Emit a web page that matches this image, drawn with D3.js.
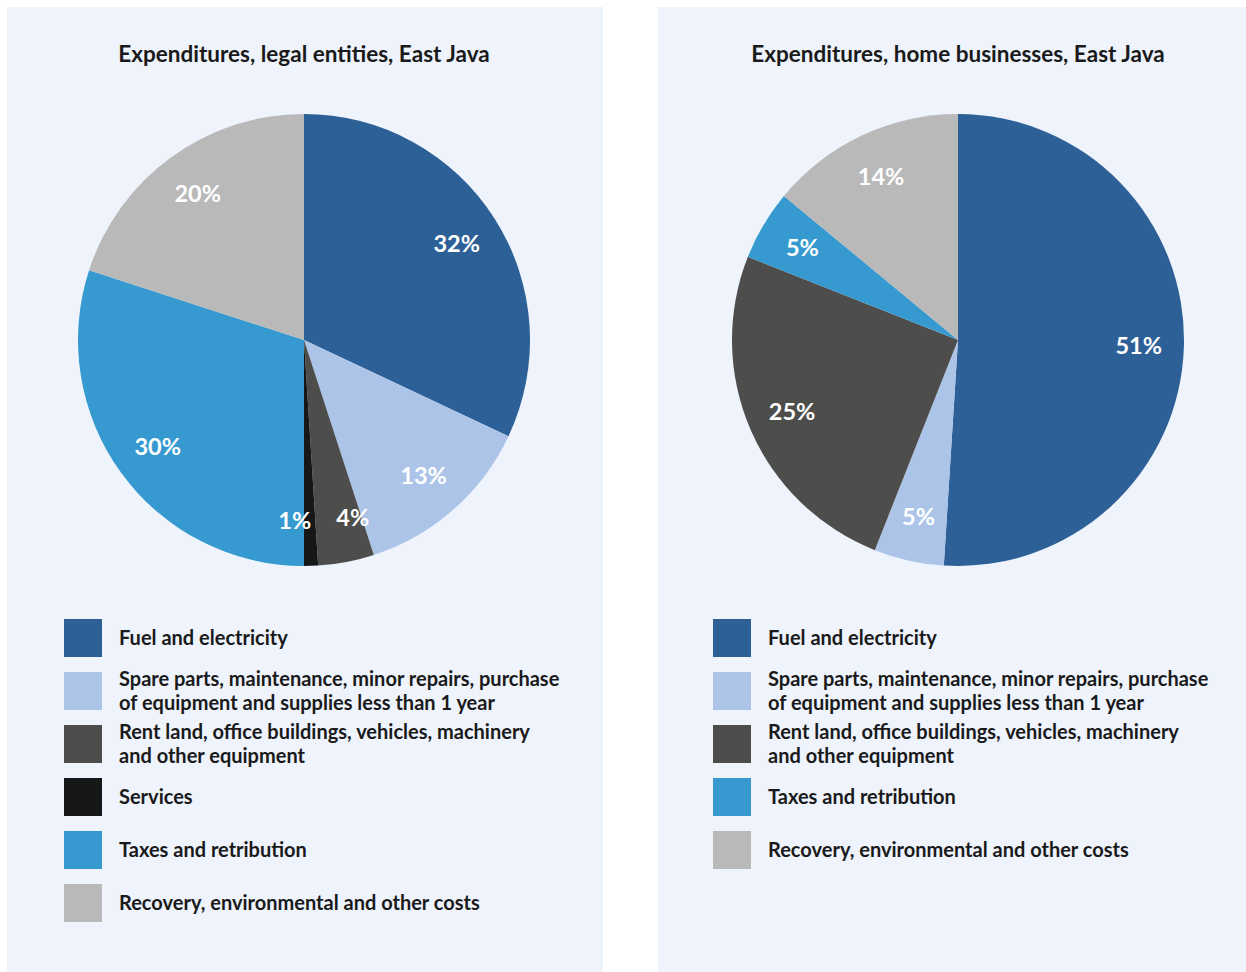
<!DOCTYPE html>
<html>
<head>
<meta charset="utf-8">
<script src="https://cdn.jsdelivr.net/npm/d3@7/dist/d3.min.js"></script>
<style>
  html, body { margin: 0; padding: 0; background: #ffffff; }
  svg { display: block; }
  text { font-family: Lato, "Noto Sans", sans-serif; font-weight: 700; }
</style>
</head>
<body>
<svg id="chart" width="1246" height="972"></svg>
<script>
// Expenditure categories and colours
const categories = [
  "Fuel and electricity",
  "Spare parts, maintenance, minor repairs, purchase|of equipment and supplies less than 1 year",
  "Rent land, office buildings, vehicles, machinery|and other equipment",
  "Services",
  "Taxes and retribution",
  "Recovery, environmental and other costs"
];
const colors = ["#2d6096", "#abc4e8", "#4d4d4b", "#161817", "#3699cf", "#b9b9b9"];

// Shares in percent, one value per category (null = not present)
const legalEntities = [32, 13, 4, 1, 30, 20];
const homeBusinesses = [51, 5, 25, null, 5, 14];

const titles = [
  "Expenditures, legal entities, East Java",
  "Expenditures, home businesses, East Java"
];

const svg = d3.select("#chart");

const panels = [
  { x0: 7, x1: 603, cx: 304, lx: 64, title: titles[0], values: legalEntities },
  { x0: 658, x1: 1246, cx: 958, lx: 713, title: titles[1], values: homeBusinesses }
];

const cy = 340, R = 226;
const pie = d3.pie().sort(null).value(d => d.value);
const arc = d3.arc().innerRadius(0).outerRadius(R);
const labelArc = d3.arc().innerRadius(R * 0.8).outerRadius(R * 0.8);

// Push apart percentage labels that would collide
function spreadLabels(pts, minGap) {
  for (let i = 0; i < pts.length; i++) {
    for (let j = i + 1; j < pts.length; j++) {
      const a = pts[i], b = pts[j];
      const dx = b.x - a.x, dy = b.y - a.y;
      if (Math.abs(dy) < 30 && Math.abs(dx) < minGap) {
        const push = (minGap - Math.abs(dx)) / 2;
        const s = dx >= 0 ? 1 : -1;
        a.x -= s * push;
        b.x += s * push;
      }
    }
  }
  return pts;
}

panels.forEach(p => {
  const g = svg.append("g");
  g.append("rect")
    .attr("x", p.x0).attr("y", 7)
    .attr("width", p.x1 - p.x0).attr("height", 972 - 7)
    .attr("fill", "#eef3fc");

  g.append("text")
    .attr("x", p.cx).attr("y", 62)
    .attr("text-anchor", "middle")
    .attr("font-size", 22.5)
    .attr("fill", "#1a1a1a")
    .text(p.title);

  const items = categories
    .map((c, i) => ({ name: c, value: p.values[i], color: colors[i] }))
    .filter(d => d.value != null);

  const pg = g.append("g").attr("transform", `translate(${p.cx},${cy})`);
  const arcs = pie(items);
  pg.selectAll("path").data(arcs).join("path")
    .attr("d", arc)
    .attr("fill", d => d.data.color);

  const pts = spreadLabels(arcs.map(d => {
    const [x, y] = labelArc.centroid(d);
    return { x, y, d };
  }), 58);

  pg.selectAll("text.lbl").data(pts).join("text")
    .attr("class", "lbl")
    .attr("transform", t => `translate(${t.x},${t.y})`)
    .attr("text-anchor", "middle")
    .attr("dy", "0.36em")
    .attr("font-size", 23.5)
    .attr("fill", "#ffffff")
    .text(t => t.d.data.value + "%");

  // Legend
  let y = 638;
  items.forEach(d => {
    const lines = d.name.split("|");
    g.append("rect")
      .attr("x", p.lx).attr("y", y - 19)
      .attr("width", 38).attr("height", 38)
      .attr("fill", d.color);
    const t = g.append("text")
      .attr("font-size", 20)
      .attr("fill", "#1a1a1a");
    const lh = 24;
    const startY = y - (lines.length - 1) * lh / 2;
    lines.forEach((ln, k) => {
      t.append("tspan")
        .attr("x", p.lx + 55)
        .attr("y", startY + k * lh)
        .attr("dy", "0.36em")
        .text(ln);
    });
    y += 53;
  });
});
</script>
</body>
</html>
